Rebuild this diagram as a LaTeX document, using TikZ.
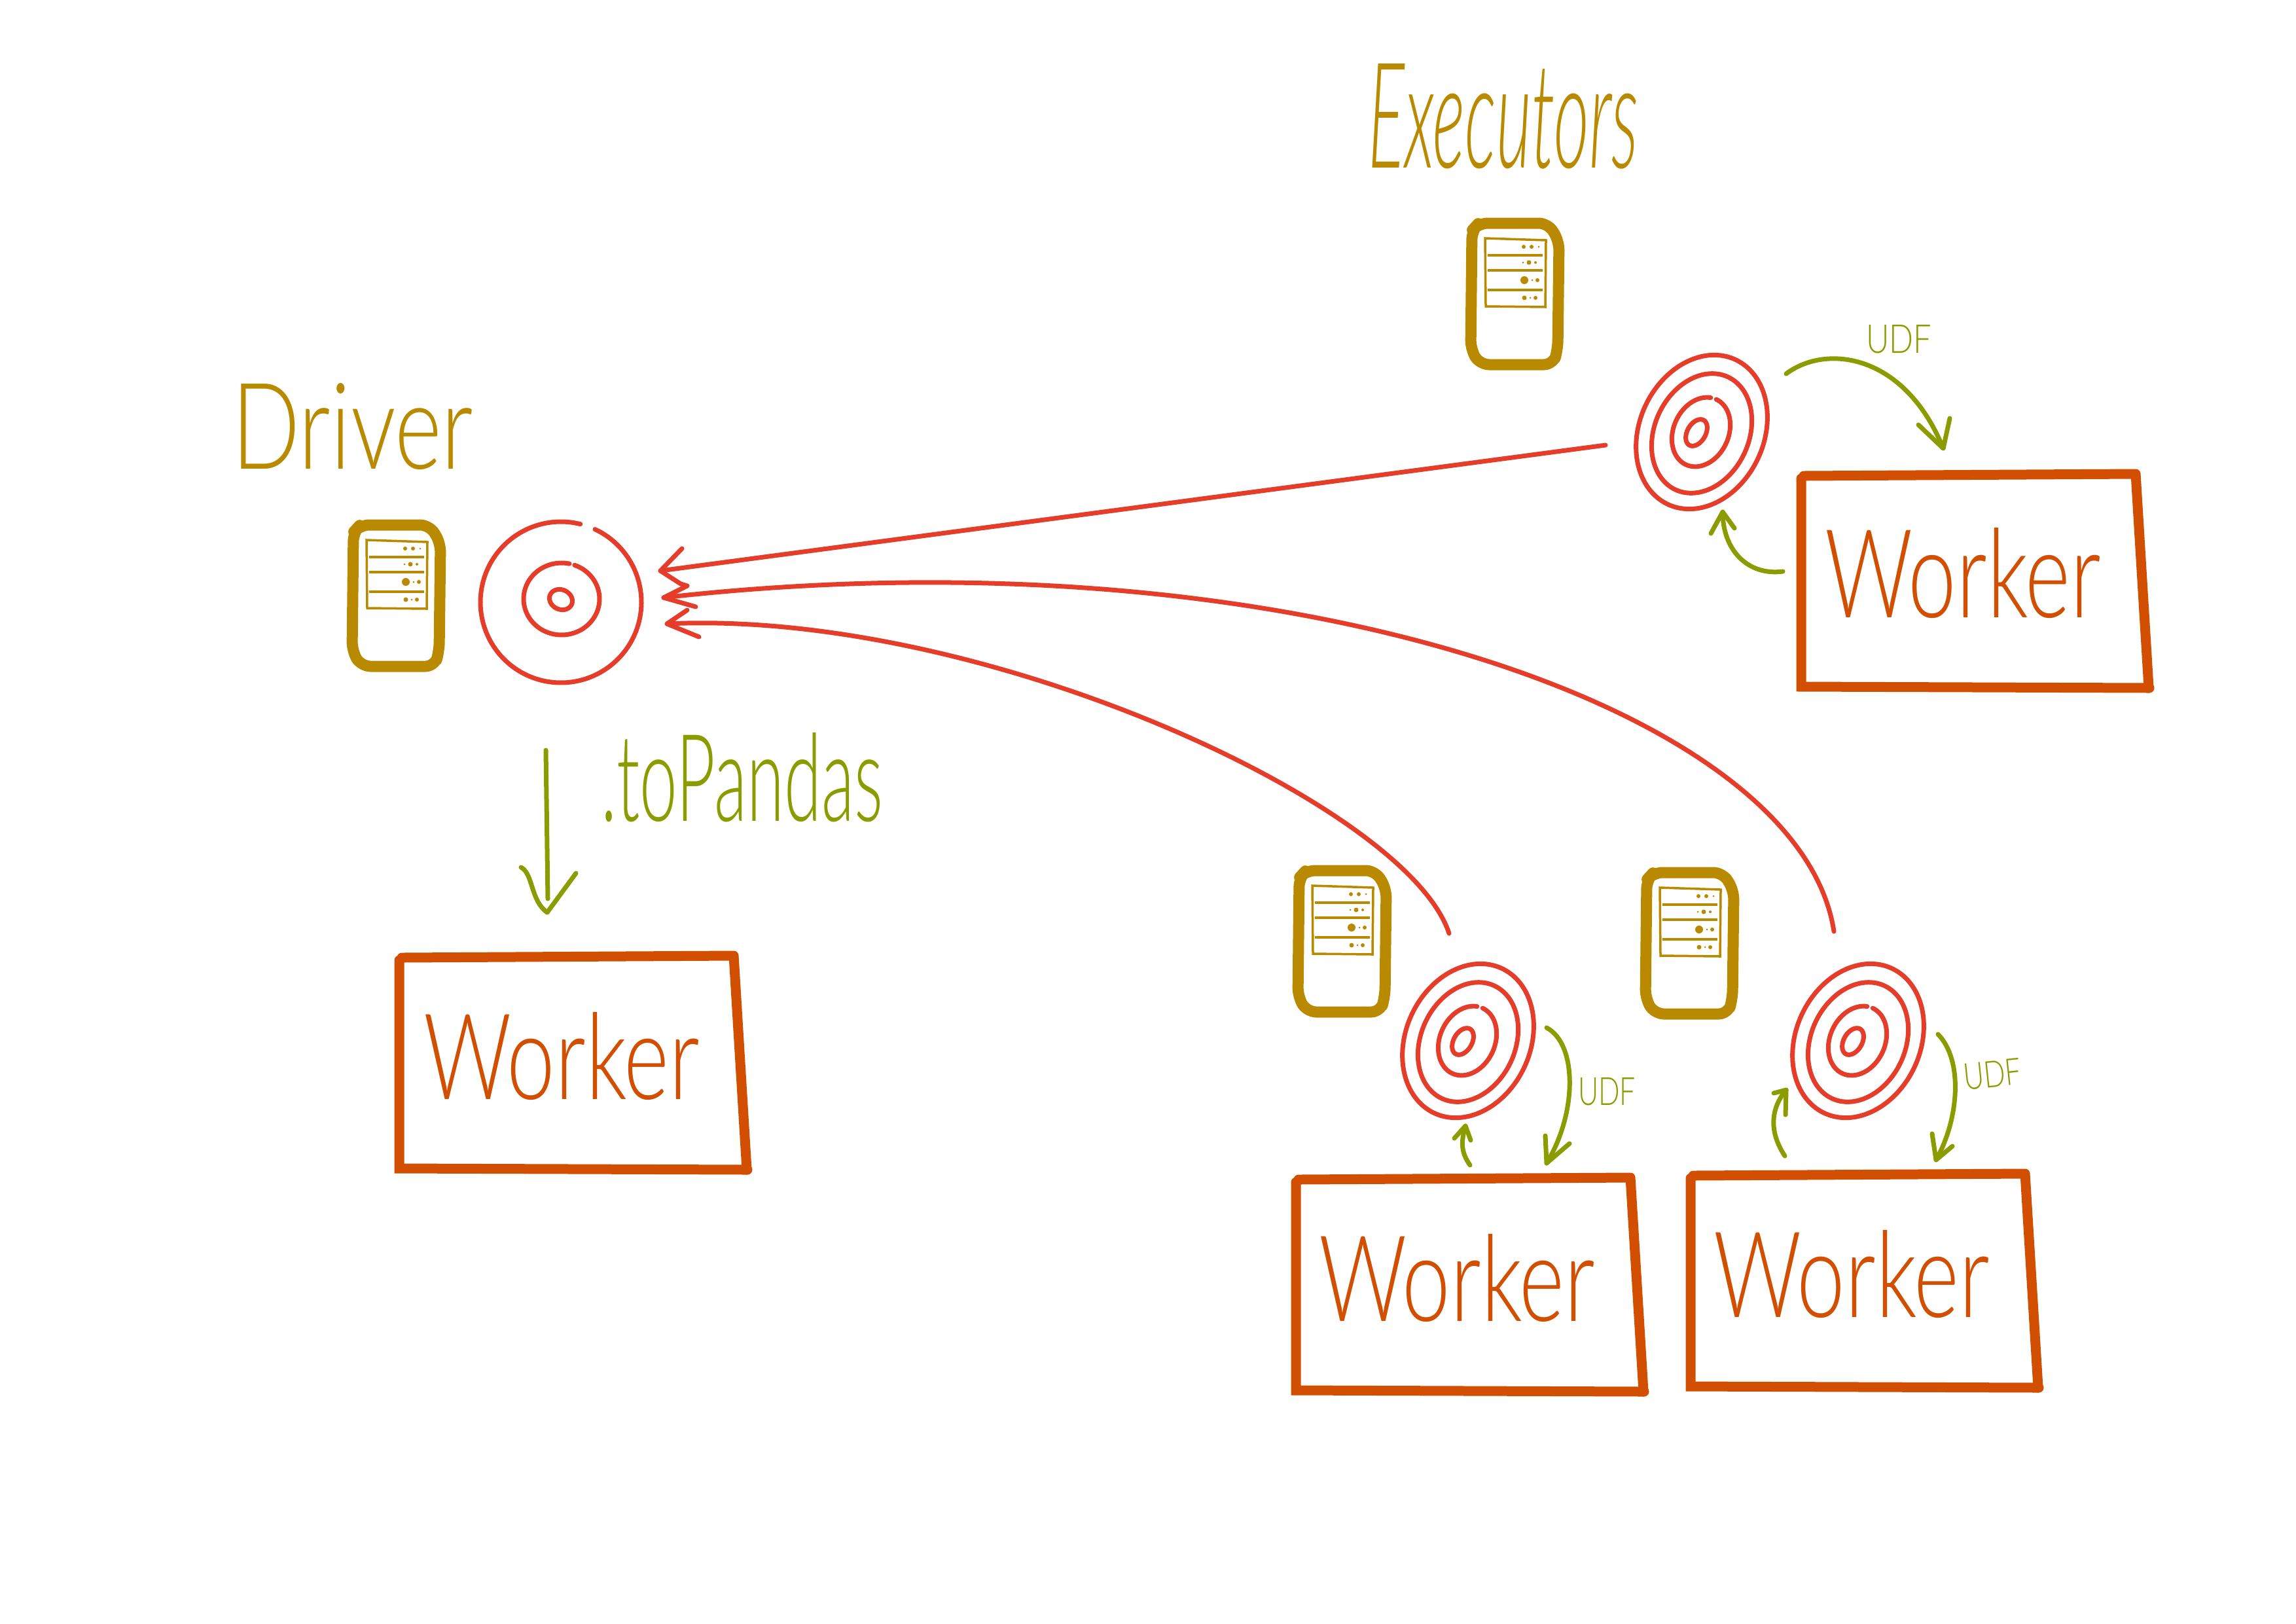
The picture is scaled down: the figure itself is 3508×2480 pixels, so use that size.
\documentclass[tikz,border=0pt]{standalone}
\usepackage{fontspec}
\newfontfamily\hand{Lato Light}
\newlength\pxu \setlength\pxu{0.24pt}
\definecolor{gold}{HTML}{B98A00}
\definecolor{wood}{HTML}{D24E00}
\definecolor{rdd}{HTML}{E63C2A}
\definecolor{leaf}{HTML}{8A9C00}
\newcommand\ringarc[7]{%
  \draw[rdd,line width=7\pxu,line cap=round] plot[smooth,samples=70,domain=#6:#7,variable=\t]
   ({#1+#3*cos(\t)*cos(#5)-#4*sin(\t)*sin(#5)},{#2+#3*cos(\t)*sin(#5)+#4*sin(\t)*cos(#5)});}
\newcommand\fit[3]{\resizebox{#1\pxu}{#2\pxu}{\hand #3}}
\tikzset{
  x=0.24pt,y=-0.24pt,
  lab/.style={inner sep=0pt,outer sep=0pt,anchor=south west},
  redline/.style={rdd,line width=7\pxu,line cap=round,line join=round},
  greenline/.style={leaf,line width=7\pxu,line cap=round,line join=round},
  server/.pic={
    \draw[gold,line width=17\pxu,line join=round,rounded corners=14\pxu]
      (0,10)--(10,-1)--(116,-1)--(133,26)--(131,192)--(124,215)--(12,215)--(-2,192)--cycle;
    \draw[gold,line width=3.5\pxu] (20,22)--(113,25)--(112,127)--(21,126)--cycle;
    \foreach \yy in {48,71,101}{\draw[gold,line width=3.5\pxu] (24,\yy)--(108,\yy);}
    \fill[gold] (79,35) circle[radius=3] (91,35) circle[radius=3] (102,35) circle[radius=1.5];
    \fill[gold] (78,59) circle[radius=1.5] (87,59) circle[radius=3.5] (97,59) circle[radius=2];
    \fill[gold] (80,86) circle[radius=6] (92,86) circle[radius=1.5] (100,86) circle[radius=3];
    \fill[gold] (80,113) circle[radius=3.5] (89,113) circle[radius=1.5] (97,113) circle[radius=3];
  },
  workerbox/.pic={
    \draw[wood,line width=15\pxu,line cap=round,line join=round]
      (0,0)--(507,-3)--(527,324);
    \draw[wood,line width=15\pxu,line cap=round] (-4,4)--(-4,322)--(528,324);
  },
  target/.pic={
    \ringarc{0}{0}{95}{122}{25}{0}{360}
    \ringarc{0}{2}{72}{95}{25}{0}{360}
    \ringarc{-1}{0}{42}{55}{25}{-90}{258}
    \ringarc{-8}{1}{14}{22}{30}{0}{360}
  },
}
\begin{document}
\begin{tikzpicture}
\useasboundingbox (0,0) rectangle (3508,2480);
% servers
\pic at (540,803) {server};
\pic at (2249,342) {server};
\pic at (1985,1331) {server};
\pic at (2516,1334) {server};
% targets
\ringarc{857}{920}{123}{123}{0}{-65}{284}
\ringarc{858}{915}{58}{55}{0}{-70}{282}
\ringarc{857}{916}{18}{15}{25}{-70}{285}
\pic at (2600,660) {target};
\pic at (2243,1590) {target};
\pic at (2839,1590) {target};
% workers
\pic at (614,1463) {workerbox};
\pic at (2756,727) {workerbox};
\pic at (1984,1802) {workerbox};
\pic at (2587,1796) {workerbox};
\node[lab,text=wood] (workerA) at (647,1681) {\fit{422}{133}{Worker}};
\node[lab,text=wood] (workerB) at (2788,945) {\fit{422}{137}{Worker}};
\node[lab,text=wood] (workerC) at (2015,2020) {\fit{422}{133}{Worker}};
\node[lab,text=wood] (workerD) at (2618,2014) {\fit{422}{133}{Worker}};
% titles
\node[lab,text=gold] (driver) at (354,718) {\fit{369}{131}{Driver}};
\node[lab,text=gold] (execs) at (2090,258) {\resizebox{413\pxu}{159\pxu}{\hand\itshape Executors}};
\node[lab,text=leaf] (topandas) at (918,1256) {\fit{431}{135}{.toPandas}};
\node[lab,text=leaf] (udfA) at (2851,540) {\fit{100}{43}{UDF}};
\node[lab,text=leaf] (udfB) at (2411,1689) {\fit{88}{42}{UDF}};
\node[lab,text=leaf,rotate=6] (udfC) at (3002,1666) {\fit{88}{40}{UDF}};
% red connectors
\coordinate (tipA) at (1009,872);
\coordinate (tipB) at (1014,913);
\coordinate (tipC) at (1019,953);
\coordinate (fromA) at (2453,680);
\coordinate (fromB) at (2802,1423);
\coordinate (fromC) at (2214,1426);
\draw[redline] (fromA)--(tipA);
\draw[redline] (fromB) .. controls (2750,1080) and (1950,807) .. (tipB);
\draw[redline] (fromC) .. controls (2150,1230) and (1500,930) .. (tipC);
\draw[redline] (1042,838)--(tipA)--(1040,892)--(1050,895)--(tipB)--(1063,927);
\draw[redline] (1050,932)--(tipC)--(1068,973);
% green connectors
\coordinate (pdFrom) at (834,1146);
\coordinate (pdTip) at (836,1394);
\draw[greenline] (pdFrom)--(837,1373);
\draw[greenline] (796,1325) .. controls (815,1335) and (810,1375) .. (pdTip)--(880,1334);
\coordinate (u1From) at (2729,571);
\coordinate (u1Tip) at (2969,685);
\draw[greenline] (u1From) .. controls (2790,525) and (2910,540) .. (u1Tip);
\draw[greenline] (2931,649)--(u1Tip)--(2979,639);
\coordinate (b1From) at (2724,873);
\coordinate (b1Tip) at (2632,782);
\draw[greenline] (b1From) .. controls (2670,880) and (2632,840) .. (b1Tip);
\draw[greenline] (2614,815)--(b1Tip)--(2650,807);
\coordinate (u2From) at (2363,1570);
\coordinate (u2Tip) at (2363,1777);
\draw[greenline] (u2From) .. controls (2410,1595) and (2410,1700) .. (u2Tip);
\draw[greenline] (2361,1735)--(u2Tip)--(2398,1747);
\coordinate (b2From) at (2246,1780);
\coordinate (b2Tip) at (2239,1720);
\draw[greenline] (b2From) .. controls (2232,1760) and (2232,1745) .. (b2Tip);
\draw[greenline] (2222,1739)--(b2Tip)--(2247,1742);
\coordinate (u3From) at (2961,1580);
\coordinate (u3Tip) at (2958,1772);
\draw[greenline] (u3From) .. controls (3000,1620) and (2993,1710) .. (u3Tip);
\draw[greenline] (2952,1732)--(u3Tip)--(2983,1751);
\coordinate (b3From) at (2727,1766);
\coordinate (b3Tip) at (2729,1665);
\draw[greenline] (b3From) .. controls (2700,1725) and (2708,1690) .. (b3Tip);
\draw[greenline] (2710,1670)--(b3Tip)--(2728,1703);
\end{tikzpicture}
\end{document}
